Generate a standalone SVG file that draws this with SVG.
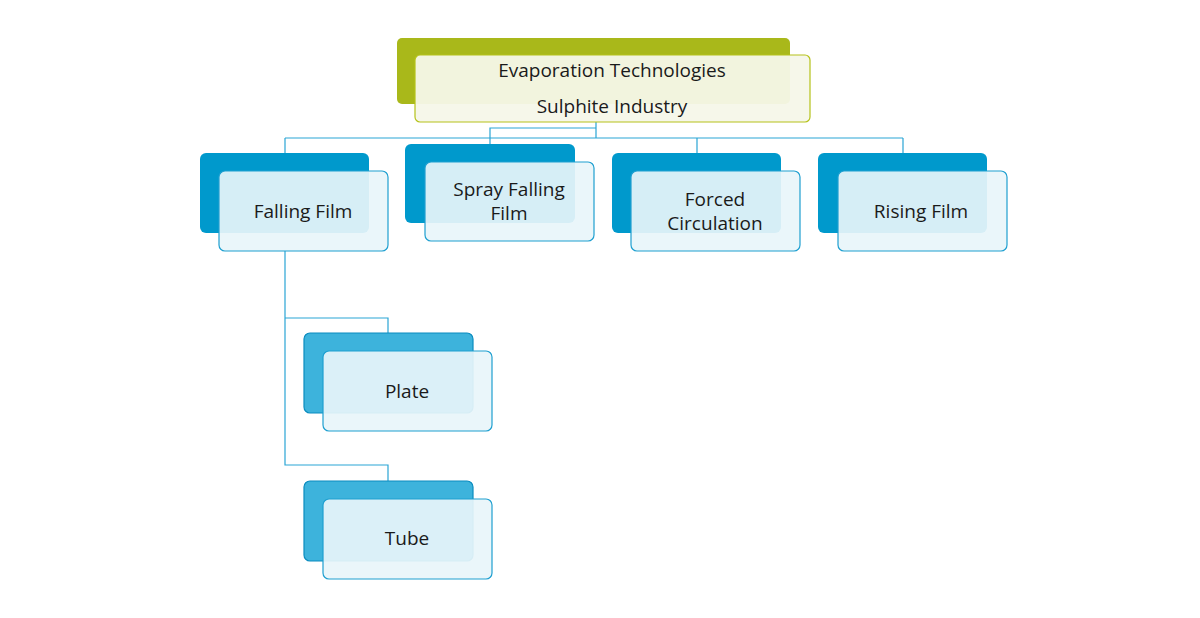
<svg xmlns="http://www.w3.org/2000/svg" width="1200" height="618" viewBox="0 0 1200 618">
<style>
.t{font-family:"Open Sans",sans-serif;font-size:19px;fill:#1a1a1a;text-anchor:middle}
.b1{fill:#0099CC}
.f1{fill:#E8F5FA;fill-opacity:0.92;stroke:#1E9FD0;stroke-width:1.2}
.b2{fill:#3DB3DC;stroke:#0A8CBF;stroke-width:1.2}
.c{fill:none;stroke:#2AA5D5;stroke-width:1.2}
</style>
<rect width="1200" height="618" fill="#fff"/>
<g id="connectors">
<path class="c" d="M596 122V138M285 138H903M285 138V153M697 138V153M903 138V153M596 128H490V144"/>
<path class="c" d="M285 251V465H388V481M285 318H388V333"/>
</g>
<g id="root">
<rect x="397" y="38" width="393" height="66" rx="5" fill="#A9B81A"/>
<rect x="415" y="55" width="395" height="67" rx="5" fill="#F6F7E9" fill-opacity="0.95" stroke="#B5C21A" stroke-width="1.2"/>
<text class="t" x="612" y="77">Evaporation Technologies</text>
<text class="t" x="612" y="113">Sulphite Industry</text>
</g>
<g id="falling">
<rect class="b1" x="200" y="153" width="169" height="80" rx="6"/>
<rect class="f1" x="219" y="171" width="169" height="80" rx="6"/>
<text class="t" x="303" y="218">Falling Film</text>
</g>
<g id="spray">
<rect class="b1" x="405" y="144" width="170" height="79" rx="6"/>
<rect class="f1" x="425" y="162" width="169" height="79" rx="6"/>
<text class="t" x="509" y="196">Spray Falling</text>
<text class="t" x="509" y="220">Film</text>
</g>
<g id="forced">
<rect class="b1" x="612" y="153" width="169" height="80" rx="6"/>
<rect class="f1" x="631" y="171" width="169" height="80" rx="6"/>
<text class="t" x="715" y="206">Forced</text>
<text class="t" x="715" y="230">Circulation</text>
</g>
<g id="rising">
<rect class="b1" x="818" y="153" width="169" height="80" rx="6"/>
<rect class="f1" x="838" y="171" width="169" height="80" rx="6"/>
<text class="t" x="921" y="218">Rising Film</text>
</g>
<g id="plate">
<rect class="b2" x="304" y="333" width="169" height="80" rx="6"/>
<rect class="f1" x="323" y="351" width="169" height="80" rx="6"/>
<text class="t" x="407" y="398">Plate</text>
</g>
<g id="tube">
<rect class="b2" x="304" y="481" width="169" height="80" rx="6"/>
<rect class="f1" x="323" y="499" width="169" height="80" rx="6"/>
<text class="t" x="407" y="545">Tube</text>
</g>
</svg>
